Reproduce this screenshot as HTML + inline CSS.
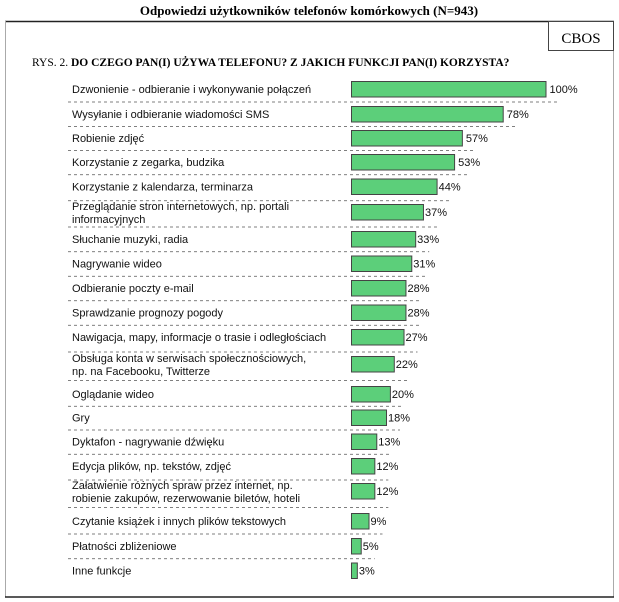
<!DOCTYPE html>
<html><head><meta charset="utf-8"><style>
html,body{margin:0;padding:0;background:#fff;}
svg{display:block;font-family:"Liberation Sans",Arial,sans-serif;}
</style></head><body>
<svg width="619" height="602" viewBox="0 0 619 602" xmlns="http://www.w3.org/2000/svg">
<text x="309" y="15" text-anchor="middle" font-family="Liberation Serif,serif" font-weight="bold" font-size="13">Odpowiedzi użytkowników telefonów komórkowych  (N=943)</text>
<line x1="5" y1="21.5" x2="614" y2="21.5" stroke="#222" stroke-width="1.5"/>
<line x1="5.5" y1="21" x2="5.5" y2="597" stroke="#aaa" stroke-width="1"/>
<line x1="613.5" y1="21" x2="613.5" y2="597" stroke="#aaa" stroke-width="1"/>
<line x1="5" y1="597" x2="614" y2="597" stroke="#222" stroke-width="1.5"/>
<rect x="548.5" y="21.5" width="65" height="29" fill="#fff" stroke="#444" stroke-width="1"/>
<text x="581" y="43" text-anchor="middle" font-family="Liberation Serif,serif" font-size="15">CBOS</text>
<text x="32" y="66" font-family="Liberation Serif,serif" font-size="11.5"><tspan>RYS. 2. </tspan><tspan font-weight="bold">DO CZEGO PAN(I) UŻYWA TELEFONU? Z JAKICH FUNKCJI PAN(I) KORZYSTA?</tspan></text>
<g id="rows" font-size="11" fill="#111"></g>
</svg>
<script>
var d=[
["Dzwonienie - odbieranie i wykonywanie połączeń",100,89],
["Wysyłanie i odbieranie wiadomości SMS",78,114],
["Robienie zdjęć",57,138],
["Korzystanie z zegarka, budzika",53,162],
["Korzystanie z kalendarza, terminarza",44,186.5],
["Przeglądanie stron internetowych, np. portali|informacyjnych",37,212],
["Słuchanie muzyki, radia",33,239],
["Nagrywanie wideo",31,263.5],
["Odbieranie poczty e-mail",28,288],
["Sprawdzanie prognozy pogody",28,312.5],
["Nawigacja, mapy, informacje o trasie i odległościach",27,337],
["Obsługa konta w serwisach społecznościowych,|np. na Facebooku, Twitterze",22,364],
["Oglądanie wideo",20,394],
["Gry",18,417.5],
["Dyktafon - nagrywanie dźwięku",13,441.5],
["Edycja plików, np. tekstów, zdjęć",12,466],
["Załatwienie różnych spraw przez internet, np.|robienie zakupów, rezerwowanie biletów, hoteli",12,491],
["Czytanie książek i innych plików tekstowych",9,521],
["Płatności zbliżeniowe",5,546],
["Inne funkcje",3,570.5]];
var s="",x0=351,k=1.945;
for(var i=0;i<d.length;i++){var r=d[i],c=r[2],w=r[1]*k,L=r[0].split("|");
 s+='<rect x="'+x0+'.5" y="'+(c-7.5)+'" width="'+w+'" height="15.5" fill="#5ccf7a" stroke="#444" stroke-width="1"/>';
 s+='<text x="'+(x0+w+(r[1]>50?4:2))+'" y="'+(c+4)+'">'+r[1]+'%</text>';
 if(L.length==1)s+='<text x="72" y="'+(c+4)+'">'+L[0]+'</text>';
 else s+='<text x="72" y="'+(c-2)+'">'+L[0]+'</text><text x="72" y="'+(c+11)+'">'+L[1]+'</text>';
 if(i<d.length-1){var sy=(c+d[i+1][2])/2+0.5;if(L.length>1||d[i+1][0].indexOf("|")>=0)sy=(c+d[i+1][2])/2+1.5;
  s+='<line x1="68" y1="'+sy+'" x2="'+(x0+w+14)+'" y2="'+sy+'" stroke="#555" stroke-width="0.8" stroke-dasharray="3,3"/>';}
}
document.getElementById("rows").innerHTML=s;
</script>
</body></html>
